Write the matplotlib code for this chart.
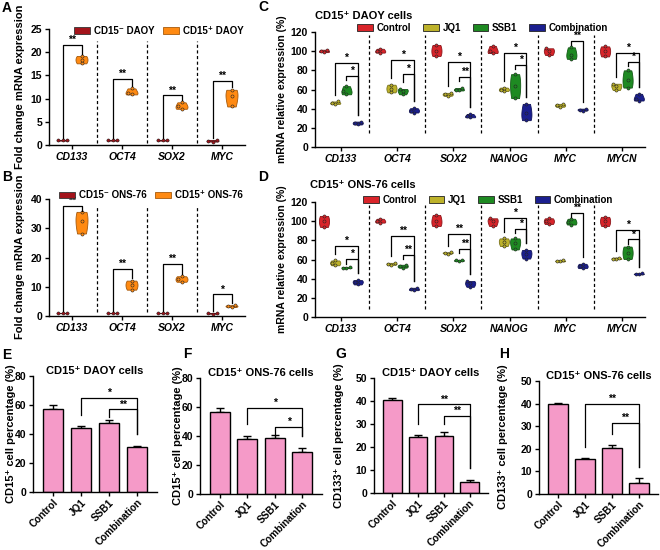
import matplotlib
matplotlib.use("Agg")

import matplotlib.pyplot as plt
import matplotlib.patches as mpatches
import matplotlib.colors as mcolors
import numpy as np

plt.rcParams["font.family"] = ["Liberation Sans", "DejaVu Sans"]
plt.rcParams["font.weight"] = "bold"
plt.rcParams["axes.linewidth"] = 1.0

# ── Data ─────────────────────────────────────────────────────────────────────
AB_GENES = ["CD133", "OCT4", "SOX2", "MYC"]
A_NEG = [[0.97, 1.0, 1.03], [0.97, 1.0, 1.03], [0.97, 1.0, 1.03], [0.75, 0.9, 1.1]]
A_POS = [[17.6, 18.4, 19.2], [10.9, 11.3, 12.2], [7.8, 8.3, 9.2], [8.3, 10.5, 11.9]]
A_SIG = [21.6, 14.2, 10.7, 13.9]
A_STARS = ["**", "**", "**", "**"]

B_NEG = [[0.96, 1.0, 1.04], [0.96, 1.0, 1.04], [0.96, 1.0, 1.04], [0.8, 0.9, 1.0]]
B_POS = [[28.2, 32.4, 35.6], [9.0, 10.6, 12.1], [11.7, 12.6, 13.6], [3.1, 3.4, 3.7]]
B_SIG = [37.5, 16.1, 17.8, 7.4]
B_STARS = ["**", "**", "**", "*"]

CD_GENES = ["CD133", "OCT4", "SOX2", "NANOG", "MYC", "MYCN"]
TREATMENTS = ["Control", "JQ1", "SSB1", "Combination"]

C_CTRL = [[99, 100, 101.5], [98.5, 100, 102.5], [95, 100.5, 106.5],
          [98, 100, 105.5], [96, 100, 103], [94.5, 100, 105]]
C_JQ1 = [[45, 46, 47.5], [57, 61, 65], [53.5, 55, 56.5],
         [58.5, 60, 62], [42, 43.5, 45], [59.5, 63.5, 66]]
C_SSB1 = [[55, 58, 63.5], [55, 58.5, 60.5], [59, 60, 61.5],
          [51, 64, 76], [92, 96.5, 104], [62, 70, 80]]
C_COMB = [[23.5, 25, 26.5], [36, 38, 40.5], [31, 32, 34.5],
          [28, 35, 45], [38, 39, 40], [48.5, 50.5, 55.5]]
# (gene, group from, group to, height, label)
C_SIG = [(0, 1, 3, 88, "*"), (0, 2, 3, 74, "*"),
         (1, 1, 3, 90.8, "*"), (1, 2, 3, 76.2, "*"),
         (2, 1, 3, 89, "*"), (2, 2, 3, 73.4, "**"),
         (3, 1, 3, 98.4, "*"), (3, 2, 3, 85.6, "*"),
         (4, 2, 3, 110.6, "**"),
         (5, 1, 3, 98.4, "*"), (5, 2, 3, 89, "*")]

D_CTRL = [[94, 100, 105.5], [98.5, 100, 102.5], [95, 100, 106.5],
          [95, 100, 103], [97, 100, 103], [95, 100, 104.5]]
D_JQ1 = [[54, 56.5, 59], [54.5, 55.5, 56.5], [66, 67, 67.5],
         [74, 78.5, 82], [58, 58.5, 59], [60.5, 61, 62]]
D_SSB1 = [[51, 51.5, 52], [51.5, 53, 54.5], [58.5, 59, 59.5],
          [70.5, 77.5, 82], [96.5, 99, 102.5], [60.5, 67, 73.5]]
D_COMB = [[34, 36.5, 38.5], [28, 29, 30.5], [31.5, 35, 37.5],
          [61, 66, 70], [51, 53, 55.5], [44.5, 45, 45.5]]
D_SIG = [(0, 1, 3, 74, "*"), (0, 2, 3, 60.2, "*"),
         (1, 1, 3, 84.5, "**"), (1, 2, 3, 65, "**"),
         (2, 1, 3, 86.6, "**"), (2, 2, 3, 71, "**"),
         (3, 1, 3, 103.6, "*"), (3, 2, 3, 91.8, "*"),
         (4, 2, 3, 108.9, "**"),
         (5, 1, 3, 90.8, "*"), (5, 2, 3, 81, "*")]

E_VALS = [57.5, 44.4, 47.6, 31.0]
E_ERR = [2.7, 0.9, 1.8, 1.0]
E_SIG = [(1, 3, 65, "*"), (2, 3, 57, "**")]

F_VALS = [56.7, 37.9, 38.9, 28.8]
F_ERR = [2.3, 2.1, 1.8, 3.2]
F_SIG = [(1, 3, 59.4, "*"), (2, 3, 46.4, "*")]

G_VALS = [40.6, 24.2, 24.9, 4.6]
G_ERR = [0.6, 1.0, 1.7, 1.2]
G_SIG = [(1, 3, 38.5, "**"), (2, 3, 33.4, "**")]

H_VALS = [40.0, 15.4, 20.3, 4.8]
H_ERR = [0.4, 0.6, 1.4, 2.2]
H_SIG = [(1, 3, 39.8, "**"), (2, 3, 31.3, "**")]

# ── Colours / sizes ──────────────────────────────────────────────────────────
NEG_RED = "#A3141B"
POS_ORANGE = "#FF8A12"
TREAT_COLORS = ["#D9242A", "#BDB22A", "#1E8A22", "#1B1F8F"]
PINK = "#F59AC8"

TICK_FS = 7.5
LEG_FS = 7
STAR_FS = 7.5

W, H = 660, 550
fig = plt.figure(figsize=(W / 100, H / 100), dpi=100)


def add_ax(l, t, r, b):
    return fig.add_axes([l / W, 1 - b / H, (r - l) / W, (b - t) / H])


def darker(c, f=0.65):
    r, g, b = mcolors.to_rgb(c)
    return (r * f, g * f, b * f)


def style(ax, ymax, step):
    for s in ("top", "right"):
        ax.spines[s].set_visible(False)
    ax.set_ylim(0, ymax)
    ax.set_yticks(np.arange(0, ymax + 0.1, step))
    ax.tick_params(direction="out", length=3, width=1, labelsize=TICK_FS, pad=2)


def swarm(vals, dy, dx):
    vals = np.asarray(vals, float)
    offs = np.zeros(len(vals))
    placed = []
    for k in np.argsort(vals):
        for cand in (0, -dx, dx, -2 * dx, 2 * dx):
            if all(abs(vals[k] - v) > dy or abs(cand - o) > dx * 0.9 for v, o in placed):
                offs[k] = cand
                break
        placed.append((vals[k], offs[k]))
    return offs


def violins(ax, groups, xs, color, width, dy, dx):
    parts = ax.violinplot(groups, positions=xs, widths=width, showextrema=False)
    for body in parts["bodies"]:
        body.set_facecolor(color)
        body.set_edgecolor(darker(color))
        body.set_linewidth(0.6)
        body.set_alpha(1)
        body.set_zorder(2)
    for x, g in zip(xs, groups):
        ax.scatter(x + swarm(g, dy, dx), g, s=5, color=color,
                   edgecolors="#222222", linewidths=0.4, zorder=3)


def bracket(ax, x1, x2, y, top1, top2, label, gap, minleg):
    b1 = min(top1 + gap, y - minleg)
    b2 = min(top2 + gap, y - minleg)
    ax.plot([x1, x1, x2, x2], [b1, y, y, b2], color="k", lw=0.9, zorder=4)
    ax.text((x1 + x2) / 2, y, label, ha="center", va="bottom",
            fontsize=STAR_FS, fontweight="bold")


def separators(ax, n, lo, hi):
    for k in range(n - 1):
        ax.axvline(k + 0.5, lo, hi, color="k", lw=0.9, ls=(0, (2.5, 2)))


def ylabel(x, y, text, fs=8):
    fig.text(x / W, 1 - y / H, text, rotation=90, ha="center", va="center",
             fontsize=fs, fontweight="bold")


def letter(x, y, text):
    fig.text(x / W, 1 - y / H, text, ha="center", va="center",
             fontsize=10, fontweight="bold")


# ── Panels A / B ─────────────────────────────────────────────────────────────
def pair_panel(box, neg, pos, sig, stars, ymax, step, labels, leg_xy, vlim):
    ax = add_ax(*box)
    style(ax, ymax, step)
    x = np.arange(len(AB_GENES))
    ax.set_xlim(-0.46, len(AB_GENES) - 0.54)
    px_per_unit = (box[3] - box[1]) / ymax
    dy = 3.2 / px_per_unit
    violins(ax, neg, x - 0.19, NEG_RED, 0.24, dy, 0.085)
    violins(ax, pos, x + 0.19, POS_ORANGE, 0.24, dy, 0.07)
    for i in range(len(AB_GENES)):
        bracket(ax, x[i] - 0.19, x[i] + 0.19, sig[i], max(neg[i]), max(pos[i]),
                stars[i], 0.02 * ymax, 0.04 * ymax)
    separators(ax, len(AB_GENES), *vlim)
    ax.set_xticks(x)
    ax.set_xticklabels(AB_GENES, fontstyle="italic", fontsize=TICK_FS)
    handles = [mpatches.Patch(facecolor=NEG_RED, edgecolor="#333333", lw=0.6),
               mpatches.Patch(facecolor=POS_ORANGE, edgecolor=darker(POS_ORANGE), lw=0.6)]
    ax.legend(handles, labels, loc="center", bbox_to_anchor=leg_xy, ncol=2,
              frameon=False, fontsize=LEG_FS, handlelength=1.6, handleheight=0.7,
              columnspacing=0.9, handletextpad=0.4, borderaxespad=0)
    return ax


pair_panel((49, 29, 245, 145), A_NEG, A_POS, A_SIG, A_STARS, 25, 5,
           ["CD15\u207b DAOY", "CD15\u207a DAOY"], (0.56, 0.985), (0.02, 0.9))
pair_panel((49, 199, 245, 316), B_NEG, B_POS, B_SIG, B_STARS, 40, 10,
           ["CD15\u207b ONS-76", "CD15\u207a ONS-76"], (0.52, 1.03), (0.03, 0.93))
ylabel(20, 87, "Fold change mRNA expression", 8)
ylabel(20, 257, "Fold change mRNA expression", 8)


# ── Panels C / D ─────────────────────────────────────────────────────────────
def treat_panel(box, groups, sig, title, title_xy, leg_xy, vlim):
    ax = add_ax(*box)
    style(ax, 120, 20)
    n = len(CD_GENES)
    x = np.arange(n)
    ax.set_xlim(-0.46, n - 0.59)
    dy = 3.2 / ((box[3] - box[1]) / 120)
    offs = [-0.3, -0.1, 0.1, 0.3]
    for g, (data, col) in enumerate(zip(groups, TREAT_COLORS)):
        violins(ax, data, x + offs[g], col, 0.18, dy, 0.055)
    for gene, g1, g2, y, lab in sig:
        bracket(ax, gene + offs[g1], gene + offs[g2], y,
                max(groups[g1][gene]), max(groups[g2][gene]), lab, 7, 4.5)
    separators(ax, n, *vlim)
    ax.set_xticks(x)
    ax.set_xticklabels(CD_GENES, fontstyle="italic", fontsize=TICK_FS)
    handles = [mpatches.Patch(facecolor=c, edgecolor="#222222", lw=0.6)
               for c in TREAT_COLORS]
    ax.legend(handles, TREATMENTS, loc="center", bbox_to_anchor=leg_xy, ncol=4,
              frameon=False, fontsize=LEG_FS, handlelength=1.6, handleheight=0.7,
              columnspacing=1.2, handletextpad=0.4, borderaxespad=0)
    ax.text(*title_xy, title, transform=ax.transAxes, ha="left", va="center",
            fontsize=8, fontweight="bold")
    return ax


treat_panel((315, 32, 645, 147), [C_CTRL, C_JQ1, C_SSB1, C_COMB], C_SIG,
            "CD15\u207a DAOY cells", (0.0, 1.14), (0.508, 1.035), (0.12, 0.97))
treat_panel((315, 202, 645, 317), [D_CTRL, D_JQ1, D_SSB1, D_COMB], D_SIG,
            "CD15\u207a ONS-76 cells", (-0.015, 1.148), (0.525, 1.017), (0.07, 0.97))
ylabel(282, 89, "mRNA relative expression (%)", 7.5)
ylabel(282, 259, "mRNA relative expression (%)", 7.5)


# ── Panels E-H ───────────────────────────────────────────────────────────────
def bar_panel(box, vals, errs, sig, ymax, step, title):
    ax = add_ax(*box)
    style(ax, ymax, step)
    x = np.arange(len(TREATMENTS))
    ax.set_xlim(-0.71, len(TREATMENTS) - 0.29)
    ax.bar(x, vals, width=0.72, color=PINK, edgecolor="k", lw=1.0, zorder=2)
    ax.errorbar(x, vals, yerr=[np.zeros(len(vals)), errs], fmt="none",
                ecolor="k", elinewidth=1, capsize=3, capthick=1, zorder=1)
    tops = np.array(vals) + np.array(errs)
    for g1, g2, y, lab in sig:
        bracket(ax, g1, g2, y, tops[g1], tops[g2], lab, 0.1 * ymax, 0.07 * ymax)
    ax.set_xticks(x)
    ax.set_xticklabels(TREATMENTS, rotation=45, ha="right",
                       rotation_mode="anchor", fontsize=7.2)
    ax.tick_params(axis="x", pad=1)
    ax.text(0.5, 1.04, title, transform=ax.transAxes, ha="center", va="center",
            fontsize=8, fontweight="bold")
    return ax


bar_panel((33, 376, 157, 492), E_VALS, E_ERR, E_SIG, 80, 20, "CD15\u207a DAOY cells")
bar_panel((200, 378, 322, 494), F_VALS, F_ERR, F_SIG, 80, 20, "CD15\u207a ONS-76 cells")
bar_panel((374, 378, 488, 493), G_VALS, G_ERR, G_SIG, 50, 10, "CD15\u207a DAOY cells")
bar_panel((539, 381, 658, 494), H_VALS, H_ERR, H_SIG, 50, 10, "CD15\u207a ONS-76 cells")
ylabel(11, 434, "CD15\u207a cell percentage (%)")
ylabel(178, 436, "CD15\u207a cell percentage (%)")
ylabel(339, 436, "CD133\u207a cell percentage (%)")
ylabel(503, 437, "CD133\u207a cell percentage (%)")

letter(7, 8, "A")
letter(7, 177, "B")
letter(263, 7, "C")
letter(263, 177, "D")
letter(7, 355, "E")
letter(187, 354, "F")
letter(341, 354, "G")
letter(504, 354, "H")

fig.savefig("out.png", dpi=100)
